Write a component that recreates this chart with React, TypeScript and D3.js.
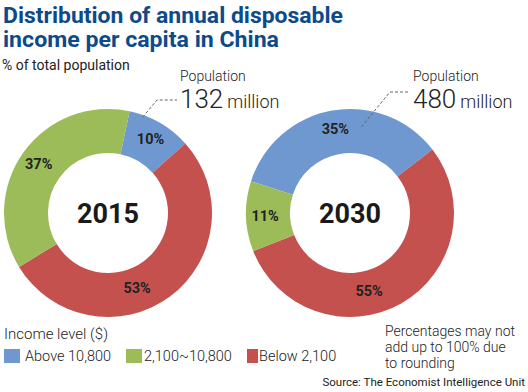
import React from "react";
import * as d3 from "d3";

const categories = ["Above 10,800", "Below 2,100", "2,100~10,800"];
const years = ["2015", "2030"];
const shares2015 = [10, 53, 37];
const shares2030 = [35, 55, 11];
const populations = ["132", "480"];

const colors = ["#6f98d0", "#c4514e", "#9bbc59"];
const legendOrder = [0, 2, 1];

const W = 528;
const H = 392;
const font = "Roboto, 'Open Sans', sans-serif";

const charts = [
  { year: years[0], values: shares2015, pop: populations[0], cx: 108, start: 12, leadT: 0.22, leadR: 102 },
  { year: years[1], values: shares2030, pop: populations[1], cx: 350, start: -72.3, leadT: 0.64, leadR: 87 },
];

const rad = (d: number) => (d * Math.PI) / 180;

const Donut = ({ c }: { c: typeof charts[number] }) => {
  const cy = 213;
  const pie = d3
    .pie<number>()
    .sort(null)
    .value(d => d)
    .startAngle(rad(c.start))
    .endAngle(rad(c.start + 360));
  const arcs = pie(c.values);
  const arc = d3.arc<d3.PieArcDatum<number>>().innerRadius(60).outerRadius(104);
  // label sits part way through each slice, red ones further round
  const labelAt = (a: d3.PieArcDatum<number>, i: number) => {
    const t = i === 1 ? 0.58 : 0.5;
    const ang = a.startAngle + (a.endAngle - a.startAngle) * t;
    const r = i === 1 ? 80 : 85;
    return [Math.sin(ang) * r, -Math.cos(ang) * r];
  };
  const blue = arcs[0];
  const la = blue.startAngle + (blue.endAngle - blue.startAngle) * c.leadT;
  const lx = c.cx + Math.sin(la) * c.leadR;
  const ly = cy - Math.cos(la) * c.leadR;
  const textX = c.cx + (c.year === "2015" ? 72 : 63);
  const elbowY = c.year === "2015" ? 100 : 92;
  return (
    <g>
      <g transform={`translate(${c.cx},${cy})`}>
        {arcs.map((a, i) => (
          <path key={i} d={arc(a) || ""} fill={colors[i]} />
        ))}
        {arcs.map((a, i) => {
          const [x, y] = labelAt(a, i);
          return (
            <text key={"l" + i} x={x} y={y} dy="0.35em" textAnchor="middle"
              fontFamily={font} fontWeight={700} fontSize={14.5} fill="#222">
              {d3.format("d")(a.data)}%
            </text>
          );
        })}
        <text x={0} y={10} textAnchor="middle" fontFamily={font} fontWeight={700}
          fontSize={27} fill="#1a1a1a">{c.year}</text>
      </g>
      <polyline
        points={`${lx},${ly} ${textX - 23},${elbowY} ${textX - 3},${elbowY}`}
        fill="none" stroke="#666" strokeWidth={1} strokeDasharray="3,2" />
      <text x={textX} y={81} fontFamily={font} fontWeight={300} fontSize={14} fill="#222">Population</text>
      <text x={textX} y={108} fontFamily={font} fill="#222" fontWeight={300}>
        <tspan fontSize={26}>{c.pop}</tspan>
        <tspan fontSize={18} dx={4}>million</tspan>
      </text>
    </g>
  );
};

export default function App() {
  const legendX = [4, 126, 247];
  return (
    <svg width={W} height={H} style={{ position: "absolute", left: 0, top: 0 }}>
      <rect width={W} height={H} fill="#fff" />
      <text x={3} y={23} fontFamily={font} fontWeight={700} fontSize={22} fill="#0d4a8a"
        textLength={340} lengthAdjust="spacingAndGlyphs">Distribution of annual disposable</text>
      <text x={3} y={47} fontFamily={font} fontWeight={700} fontSize={22} fill="#0d4a8a"
        textLength={276} lengthAdjust="spacingAndGlyphs">income per capita in China</text>
      <text x={2} y={70} fontFamily={font} fontSize={14} fill="#222">% of total population</text>
      {charts.map(c => <Donut key={c.year} c={c} />)}
      <text x={4} y={339} fontFamily={font} fontWeight={300} fontSize={15} fill="#222">Income level ($)</text>
      {legendOrder.map((k, j) => (
        <g key={k}>
          <rect x={legendX[j]} y={349} width={k === 1 ? 11 : 16} height={14} fill={colors[k]} />
          <text x={legendX[j] + (k === 1 ? 12 : 21 - (j === 1 ? 3 : 0))} y={361} fontFamily={font}
            fontWeight={300} fontSize={14.5} fill="#222">{categories[k]}</text>
        </g>
      ))}
      {["Percentages may not", "add up to 100% due", "to rounding"].map((s, i) => (
        <text key={s} x={385} y={336 + i * 16} fontFamily={font} fontWeight={300} fontSize={14} fill="#222">{s}</text>
      ))}
      <text x={525} y={386} textAnchor="end" fontFamily={font} fontSize={11.5} fill="#222">
        Source: The Economist Intelligence Unit
      </text>
    </svg>
  );
}
